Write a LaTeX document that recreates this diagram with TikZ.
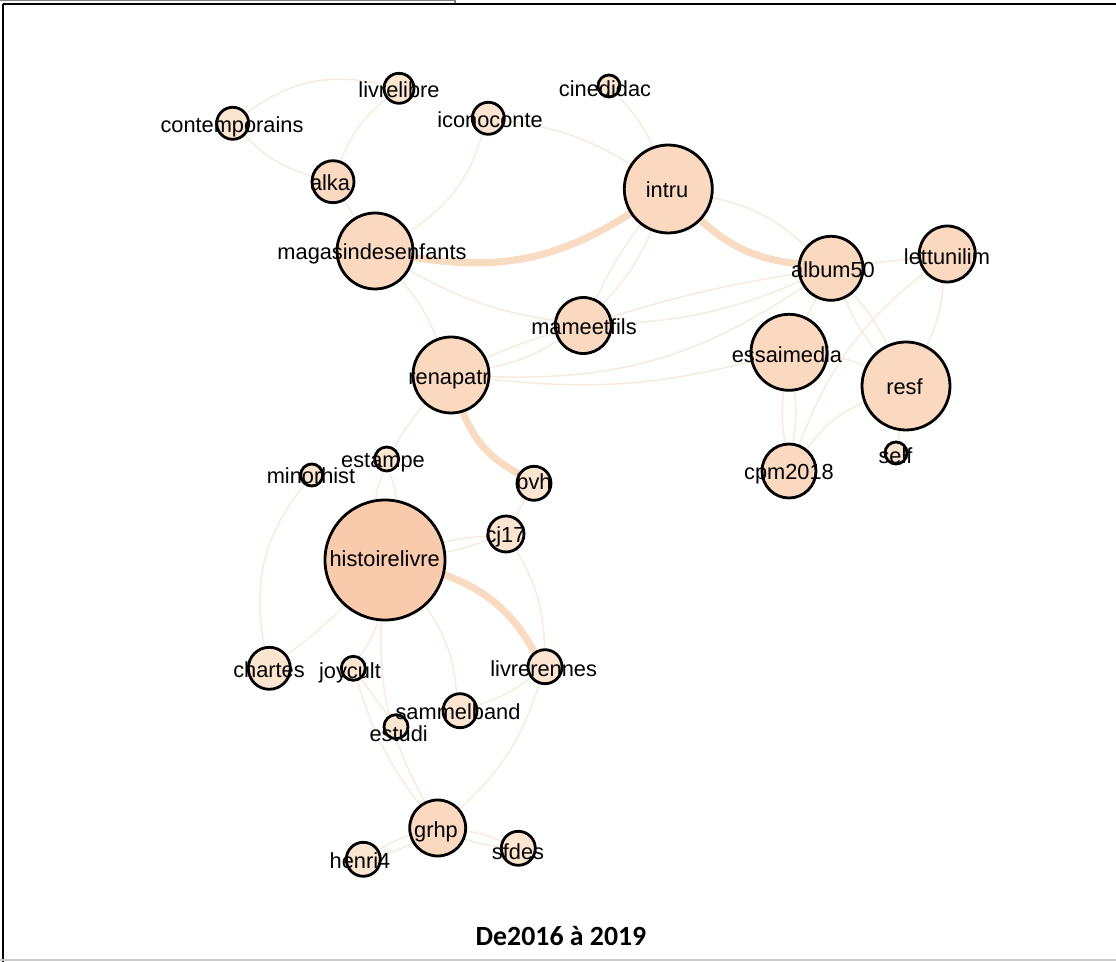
\documentclass[tikz,border=0pt]{standalone}
\usepackage{fontspec}
\setmainfont{Liberation Sans}
\newfontfamily\capfont{Carlito}
\usetikzlibrary{backgrounds}
\definecolor{nodeA}{RGB}{249,203,172}
\definecolor{nodeB}{RGB}{250,217,192}
\definecolor{nodeC}{RGB}{252,229,208}
\definecolor{thickedge}{RGB}{249,219,194}
\definecolor{thinedge}{RGB}{247,235,222}
\begin{document}
\begin{tikzpicture}[x=0.5pt,y=-0.5pt,
  nd/.style={circle, draw=black, line width=1.4pt, inner sep=0pt, outer sep=0pt},
  lbl/.style={font=\fontsize{10.9pt}{12pt}\selectfont, inner sep=0pt, anchor=base},
  te/.style={draw=thickedge, line width=3.6pt},
  tn/.style={draw=thinedge, line width=0.75pt},
  captext/.style={font=\capfont\bfseries\fontsize{13.9pt}{16pt}\selectfont, inner sep=0pt, anchor=base}]
\useasboundingbox (0,0) rectangle (1116,962);
% frame
\draw[gray, line width=0.6pt] (0,0.8) -- (455,0.8);
\draw[gray, line width=0.6pt] (455,0) -- (455,4);
\draw[line width=1.2pt] (3,4) -- (1116,4);
\draw[line width=0.9pt] (3,4) -- (3,962);
\draw[gray!40, line width=1pt] (0,960.5) -- (1116,960.5);
% nodes
\node[nd, fill=nodeC, minimum size=16pt] (cont) at (232.7,123.3) {};
\node[nd, fill=nodeC, minimum size=15pt] (livl) at (399,88.3) {};
\node[nd, fill=nodeC, minimum size=16pt] (icon) at (488.3,118.3) {};
\node[nd, fill=nodeC, minimum size=11pt] (cine) at (609,86) {};
\node[nd, fill=nodeB, minimum size=21pt] (alka) at (333,181.7) {};
\node[nd, fill=nodeB, minimum size=44pt] (intru) at (668.3,189) {};
\node[nd, fill=nodeB, minimum size=38pt] (mag) at (375,251) {};
\node[nd, fill=nodeB, minimum size=32pt] (alb) at (831,268.3) {};
\node[nd, fill=nodeB, minimum size=28pt] (lett) at (947.3,254) {};
\node[nd, fill=nodeB, minimum size=28pt] (mame) at (583.3,325.5) {};
\node[nd, fill=nodeB, minimum size=38pt] (essa) at (789,352.3) {};
\node[nd, fill=nodeB, minimum size=38pt] (rena) at (451,375) {};
\node[nd, fill=nodeB, minimum size=44pt] (resf) at (906,386) {};
\node[nd, fill=nodeC, minimum size=12pt] (est) at (386.7,459) {};
\node[nd, fill=nodeC, minimum size=11pt] (minor) at (311.7,475) {};
\node[nd, fill=nodeC, minimum size=17pt] (bvh) at (534,483.3) {};
\node[nd, fill=nodeB, minimum size=27pt] (cpm) at (789,471) {};
\node[nd, fill=nodeC, minimum size=11pt] (self) at (896,453) {};
\node[nd, fill=nodeC, minimum size=18pt] (cj) at (506,534) {};
\node[nd, fill=nodeA, minimum size=60pt] (hist) at (385,560) {};
\node[nd, fill=nodeC, minimum size=21pt] (chart) at (269.3,668.3) {};
\node[nd, fill=nodeC, minimum size=12pt] (joy) at (353.3,668.3) {};
\node[nd, fill=nodeC, minimum size=17pt] (livr) at (545,666.7) {};
\node[nd, fill=nodeC, minimum size=17pt] (samm) at (460,710.7) {};
\node[nd, fill=nodeC, minimum size=12pt] (estu) at (396,726.7) {};
\node[nd, fill=nodeB, minimum size=28pt] (grhp) at (437.7,828) {};
\node[nd, fill=nodeC, minimum size=17pt] (henri) at (363.3,859.3) {};
\node[nd, fill=nodeC, minimum size=17pt] (sfdes) at (518.3,848.3) {};
% edges
\begin{pgfonlayer}{background}
\draw[te] (mag) to[bend right=21] (intru);
\draw[te] (intru) to[bend right=18] (alb);
\draw[te] (rena) to[bend right=20] (bvh);
\draw[te] (hist) to[bend left=20] (livr);
\draw[tn] (cont) to[bend left=25] (livl);
\draw[tn] (cont) to[bend right=15] (alka);
\draw[tn] (livl) to[bend right=15] (alka);
\draw[tn] (alka) -- (mag);
\draw[tn] (icon) to[bend left=20] (mag);
\draw[tn] (icon) to[bend left=12] (intru);
\draw[tn] (cine) to[bend left=10] (intru);
\draw[tn] (intru) to[bend left=10] (mame);
\draw[tn] (intru) to[bend right=6] (mame);
\draw[tn] (intru) to[bend left=15] (alb);
\draw[tn] (mag) to[bend right=10] (mame);
\draw[tn] (mag) to[bend left=10] (rena);
\draw[tn] (mame) to[bend left=4] (alb);
\draw[tn] (mame) to[bend right=10] (alb);
\draw[tn] (rena) to[bend left=5] (mame);
\draw[tn] (rena) to[bend right=10] (mame);
\draw[tn] (rena) to[bend right=18] (alb);
\draw[tn] (rena) to[bend right=10] (essa);
\draw[tn] (alb) -- (essa);
\draw[tn] (alb) to[bend left=8] (resf);
\draw[tn] (alb) to[bend right=8] (resf);
\draw[tn] (alb) -- (lett);
\draw[tn] (lett) to[bend right=15] (cpm);
\draw[tn] (lett) to[bend left=10] (resf);
\draw[tn] (essa) to[bend left=8] (cpm);
\draw[tn] (essa) to[bend right=8] (cpm);
\draw[tn] (essa) to[bend left=10] (resf);
\draw[tn] (resf) to[bend right=15] (cpm);
\draw[tn] (resf) -- (self);
\draw[tn] (rena) to[bend right=5] (est);
\draw[tn] (est) to[bend left=10] (hist);
\draw[tn] (est) to[bend right=10] (hist);
\draw[tn] (minor) to[bend right=25] (chart);
\draw[tn] (hist) to[bend left=5] (chart);
\draw[tn] (hist) to[bend left=10] (joy);
\draw[tn] (hist) to[bend left=5] (cj);
\draw[tn] (hist) to[bend right=5] (cj);
\draw[tn] (bvh) -- (cj);
\draw[tn] (cj) to[bend left=15] (livr);
\draw[tn] (hist) to[bend left=15] (samm);
\draw[tn] (hist) to[bend right=15] (grhp);
\draw[tn] (joy) to[bend right=10] (grhp);
\draw[tn] (joy) -- (estu);
\draw[tn] (livr) to[bend left=10] (samm);
\draw[tn] (livr) to[bend left=15] (grhp);
\draw[tn] (grhp) to[bend left=8] (henri);
\draw[tn] (grhp) to[bend right=8] (henri);
\draw[tn] (grhp) to[bend left=8] (sfdes);
\draw[tn] (grhp) to[bend right=8] (sfdes);
\end{pgfonlayer}
% labels
\node[lbl] (l-cont) at (232,133) {contemporains};
\node[lbl] (l-livl) at (399,98) {livrelibre};
\node[lbl] (l-icon) at (490,128) {iconoconte};
\node[lbl] (l-cine) at (605,97) {cinedidac};
\node[lbl] (l-alka) at (330,191) {alka};
\node[lbl] (l-intru) at (667,198) {intru};
\node[lbl] (l-mag) at (372,260) {magasindesenfants};
\node[lbl] (l-alb) at (833,278) {album50};
\node[lbl] (l-lett) at (947,265) {lettunilim};
\node[lbl] (l-mame) at (584,335) {mameetfils};
\node[lbl] (l-essa) at (787,363) {essaimedia};
\node[lbl] (l-rena) at (449,385) {renapatr};
\node[lbl] (l-resf) at (904.5,395) {resf};
\node[lbl] (l-est) at (383,468) {estampe};
\node[lbl] (l-minor) at (311,484) {minorhist};
\node[lbl] (l-bvh) at (534,490) {bvh};
\node[lbl] (l-cpm) at (789,480) {cpm2018};
\node[lbl] (l-self) at (895.5,464) {self};
\node[lbl] (l-cj) at (505.5,543) {cj17};
\node[lbl] (l-hist) at (384.7,567) {histoirelivre};
\node[lbl] (l-chart) at (269,678) {chartes};
\node[lbl] (l-joy) at (350,679) {joycult};
\node[lbl] (l-livr) at (543.7,677) {livrerennes};
\node[lbl] (l-samm) at (458,720) {sammelband};
\node[lbl] (l-estu) at (398.7,742) {estudi};
\node[lbl] (l-grhp) at (436,838) {grhp};
\node[lbl] (l-henri) at (360,869) {henri4};
\node[lbl] (l-sfdes) at (518,860) {sfdes};
\node[captext] (caption) at (561,946) {De2016 à 2019};
\end{tikzpicture}
\end{document}
